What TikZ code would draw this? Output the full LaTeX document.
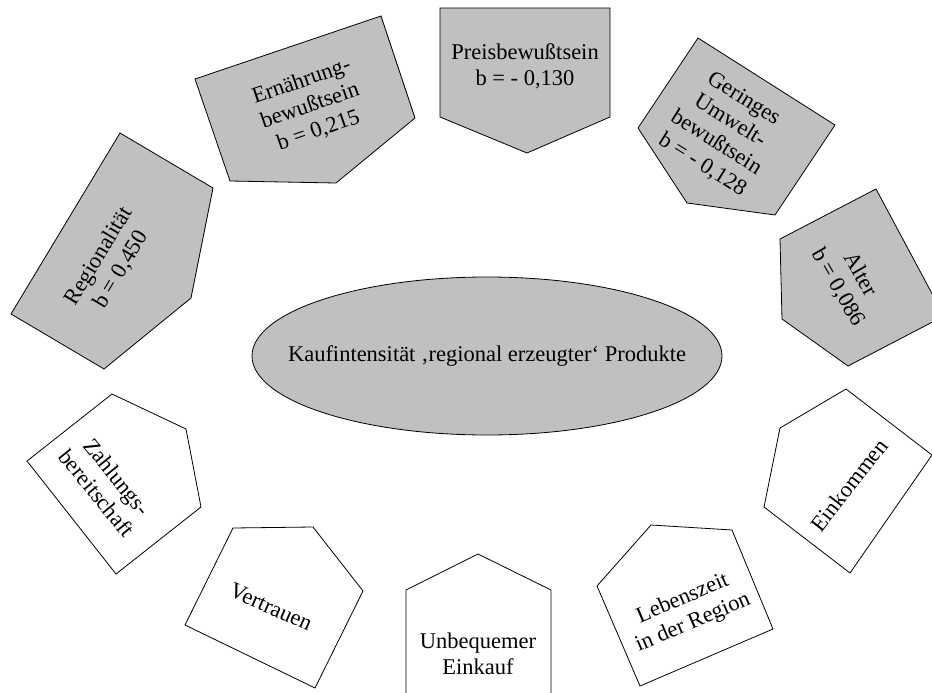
\documentclass[tikz,border=0pt]{standalone}
\usepackage{fontspec}
\setmainfont{Liberation Serif}
\definecolor{shapegrey}{HTML}{C0C0C0}
\tikzset{
  gshape/.style={draw=black, fill=shapegrey, line width=0.8pt, line join=miter},
  wshape/.style={draw=black, fill=white, line width=0.8pt, line join=miter},
  lbl/.style={align=center, inner sep=0pt, font=\fontsize{22.5}{26}\selectfont},
}
\begin{document}
\begin{tikzpicture}[x=1pt, y=-1pt]
\useasboundingbox (0,0) rectangle (932,693);
\fill[white] (0,0) rectangle (932,693);
\begin{scope}
\clip (0,0) rectangle (932,693);

% central ellipse
\draw[gshape] (487,356) ellipse [x radius=235, y radius=79];
\node[lbl] (ziel) at (487,356) {Kaufintensität ‚regional erzeugter‘ Produkte};

% grey factors (significant), pointing towards the centre
\draw[gshape] (120,133) -- (213,188) -- (191,298) -- (104,369) -- (11,314) -- cycle;
\node[lbl, rotate=59] (regio) at (110,263) {Regionalität\\b = 0,450};

\draw[gshape] (195,79) -- (381,16) -- (415,118) -- (336,183) -- (230,181) -- cycle;
\node[lbl, rotate=19] (ernaehrung) at (310,106) {Ernährung-\\bewußtsein\\b = 0,215};

\draw[gshape] (440,8) -- (610,8) -- (610,117) -- (527,153) -- (440,117) -- cycle;
\node[lbl] (preis) at (525,66) {Preisbewußtsein\\b = - 0,130};

\draw[gshape] (698,38) -- (835,125) -- (775,215) -- (687,203) -- (638,128) -- cycle;
\node[lbl, rotate=-32] (umwelt) at (723,132) {Geringes\\Umwelt-\\bewußtsein\\b = - 0,128};

\draw[gshape] (780,239) -- (876,189) -- (944,316) -- (848,366) -- (782,319) -- cycle;
\node[lbl, rotate=-60] (alter) at (849,281) {Alter\\b = 0,086};

% white factors (not significant)
\draw[wshape] (780,428) -- (846,389) -- (932,455) -- (850,573) -- (764,507) -- cycle;
\node[lbl, rotate=52] (einkommen) at (849,485) {Einkommen};

\draw[wshape] (651,525) -- (732,530) -- (773,629) -- (640,686) -- (597,586) -- cycle;
\node[lbl, rotate=23] (lebenszeit) at (688,611) {Lebenszeit\\in der Region};

\draw[wshape] (478,554) -- (551,590) -- (551,698) -- (406,698) -- (406,590) -- cycle;
\node[lbl] (einkauf) at (478,654) {Unbequemer\\Einkauf};

\draw[wshape] (313,527) -- (363,591) -- (315,688) -- (185,625) -- (233,528) -- cycle;
\node[lbl, rotate=-24] (vertrauen) at (271,607) {Vertrauen};

\draw[wshape] (186,429) -- (201,507) -- (116,574) -- (27,461) -- (112,394) -- cycle;
\node[lbl, rotate=-51] (zahlung) at (107,485) {Zahlungs-\\bereitschaft};
\end{scope}
\end{tikzpicture}
\end{document}
